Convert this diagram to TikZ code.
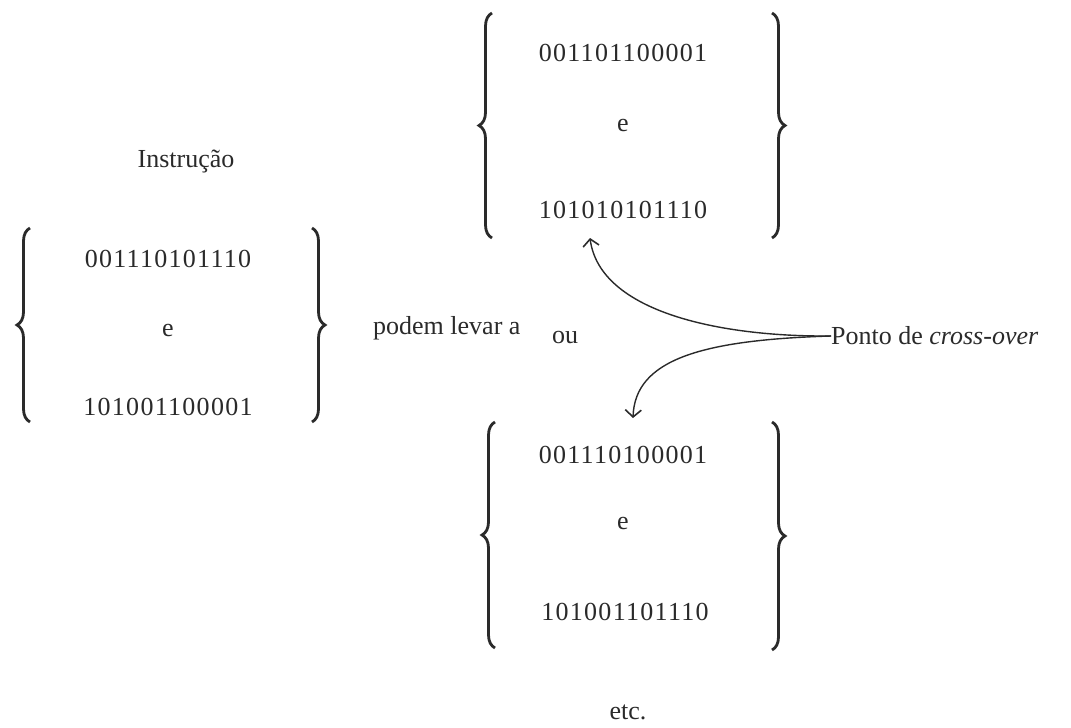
\documentclass[tikz,border=0pt]{standalone}
\usepackage{fontspec}
\setmainfont{Liberation Serif}
\usetikzlibrary{decorations.pathreplacing,arrows.meta}
\definecolor{ink}{HTML}{2A2A2A}
\tikzset{
  lbl/.style={font=\fontsize{26}{30}\selectfont, text=ink, inner sep=0pt},
  bits/.style={font=\fontsize{26}{30}\selectfont\addfontfeatures{LetterSpace=5}, text=ink, inner sep=0pt},
  bracel/.style={draw=ink, line width=2.8pt, decorate, decoration={brace, amplitude=13pt}},
  conn/.style={draw=ink, line width=1.4pt, -{Straight Barb[length=7pt,width=16pt,line width=1.6pt]}}
}
\begin{document}
\begin{tikzpicture}[x=1pt,y=-1pt]
\useasboundingbox (0,0) rectangle (1071,728);
% left block
\node[lbl] (instr) at (186,162) {Instrução};
\node[bits] (l1) at (168,259) {001110101110};
\node[lbl] (le) at (168,330) {e};
\node[bits] (l2) at (168,407) {101001100001};
\draw[bracel] (30,422) -- (30,228);
\draw[bracel] (312,228) -- (312,422);
\node[lbl, anchor=west] (podem) at (373,328) {podem levar a};
% top block
\node[bits] (t1) at (623,53) {001101100001};
\node[lbl] (te) at (623,126) {e};
\node[bits] (t2) at (623,210) {101010101110};
\draw[bracel] (492,238) -- (492,13);
\draw[bracel] (772,13) -- (772,238);
% middle
\node[lbl] (ou) at (565,337) {ou};
\node[lbl, anchor=west] (ponto) at (831,336) {Ponto de \textit{cross-over}};
% bottom block
\node[bits] (b1) at (623,455) {001110100001};
\node[lbl] (be) at (623,523) {e};
\node[bits] (b2) at (625,612) {101001101110};
\draw[bracel] (495,648) -- (495,422);
\draw[bracel] (772,422) -- (772,650);
\node[lbl] (etc) at (628,712) {etc.};
% connectors
\coordinate (upend) at (590,238);
\coordinate (downend) at (633,418);
\draw[conn] (ponto.west) .. controls (720,337) and (600,312) .. (upend);
\draw[conn] (ponto.west) .. controls (700,340) and (635,360) .. (downend);
\end{tikzpicture}
\end{document}
